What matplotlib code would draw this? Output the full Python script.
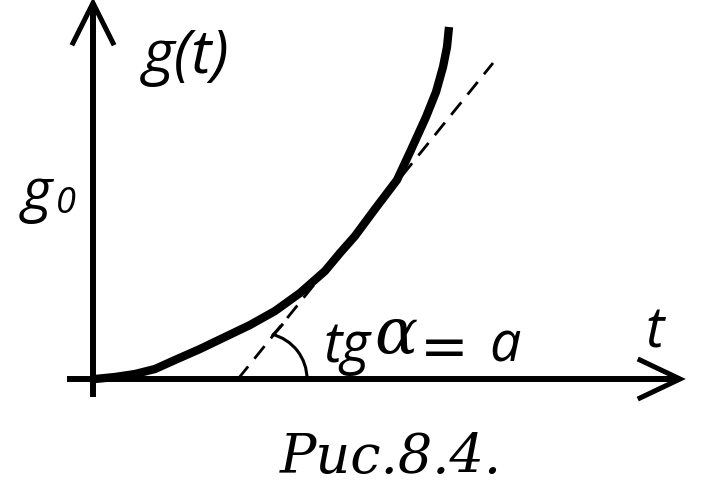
import matplotlib.pyplot as plt
from matplotlib.patches import Arc

# curve g(t) (origin at the axes crossing)
t_curve = [2, 22, 42, 62, 82, 107, 132, 157, 182, 207, 232, 247, 262, 282, 304, 318, 333, 343, 350, 354, 356]
g_curve = [0, 2, 5, 10, 19, 30, 42, 54, 68, 86, 108, 126, 143, 170, 199, 229, 262, 287, 312, 332, 352]

# dashed tangent line
t_tan = [145, 400]
g_tan = [0, 316]

# axes with open arrow heads
t_yaxis = [0, 0]
g_yaxis = [-18, 376]
t_yhead = [-20, 0, 20]
g_yhead = [336, 376, 336]
t_xaxis = [-26, 587]
g_xaxis = [0, 0]
t_xhead = [547, 587, 547]
g_xhead = [19, 0, -19]

# angle mark
arc_center = (168, 0)
arc_radius = 46
arc_angles = (0, 76)
t_hook = [180, 189]
g_hook = [44, 54]

fig = plt.figure(figsize=(7.04, 4.96), dpi=100)
ax = fig.add_axes([0, 0, 1, 1])
ax.set_xlim(-93, 611)
ax.set_ylim(-117, 379)
ax.axis('off')

ax.plot(t_yaxis, g_yaxis, color='black', lw=4.3, solid_capstyle='butt')
ax.plot(t_yhead, g_yhead, color='black', lw=3.6, solid_joinstyle='miter')
ax.plot(t_xaxis, g_xaxis, color='black', lw=4.3, solid_capstyle='butt')
ax.plot(t_xhead, g_xhead, color='black', lw=3.6, solid_joinstyle='miter')

ax.plot(t_curve, g_curve, color='black', lw=6, solid_capstyle='butt')
ax.plot(t_tan, g_tan, color='black', lw=2, dashes=(5.8, 3.6))

ax.add_patch(Arc(arc_center, 2 * arc_radius, 2 * arc_radius,
                 theta1=arc_angles[0], theta2=arc_angles[1], color='black', lw=2.2))
ax.plot(t_hook, g_hook, color='black', lw=2.2)

sans = dict(family='Open Sans', style='italic', color='black', va='baseline', ha='left')
serif = dict(family='DejaVu Serif', style='italic', color='black', va='baseline', ha='left')

ax.text(50, 306, 'g(t)', fontsize=44, **sans)
ax.text(-71, 169, 'g', fontsize=42, **sans)
ax.text(-37, 166, '0', fontsize=26, **sans)
ax.text(230, 17, 'tg', fontsize=40, **sans)
ax.text(281, 26, 'α', fontsize=46, **serif)
ax.text(327, 13, '=', fontsize=42, family='DejaVu Sans', color='black', va='baseline', ha='left')
ax.text(396, 17, 'a', fontsize=40, **sans)
ax.text(552, 31, 't', fontsize=40, **sans)
ax.text(187, -94, 'Рис.8.4.', fontsize=39, **serif)

fig.savefig('out.png', dpi=100)
